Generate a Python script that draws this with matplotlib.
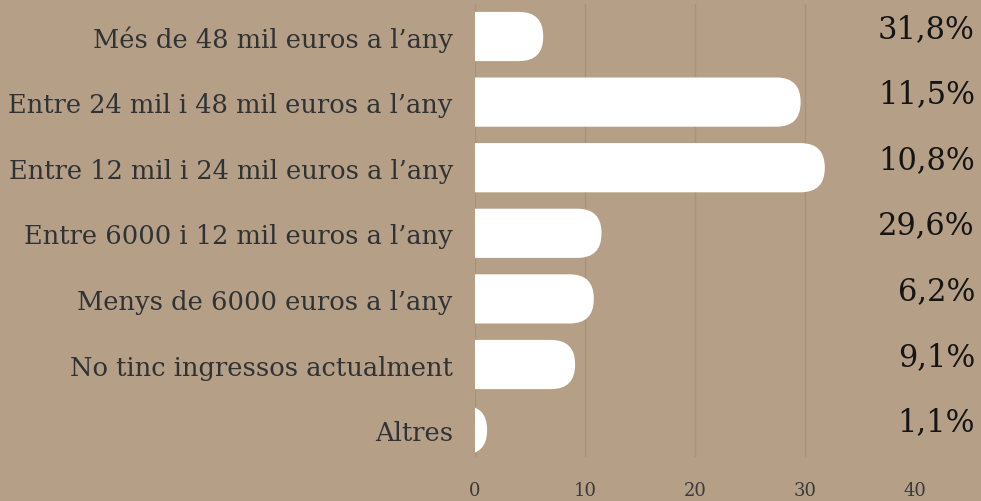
import matplotlib.pyplot as plt
from matplotlib.patches import FancyBboxPatch

# dades
categories = ["Més de 48 mil euros a l’any",
              "Entre 24 mil i 48 mil euros a l’any",
              "Entre 12 mil i 24 mil euros a l’any",
              "Entre 6000 i 12 mil euros a l’any",
              "Menys de 6000 euros a l’any",
              "No tinc ingressos actualment",
              "Altres"]
values = [6.2, 29.6, 31.8, 11.5, 10.8, 9.1, 1.1]
pct_labels = ["31,8%", "11,5%", "10,8%", "29,6%", "6,2%", "9,1%", "1,1%"]
xticks = [0, 10, 20, 30, 40]

bg = '#b5a087'
grid_col = '#a7927a'
txt_col = '#2f3335'

W, H = 981, 502
fig = plt.figure(figsize=(W / 100, H / 100), dpi=100, facecolor=bg)
ax = fig.add_axes([475 / W, 1 - 458 / H, (915 - 475) / W, (458 - 4.7) / H])
ax.set_facecolor(bg)

y = list(range(len(categories)))
bars = ax.barh(y, values, height=0.75, color='white')

# barres arrodonides a la dreta
x_per_px = 40 / 440
y_per_px = 6.91 / 453.3
for b in bars:
    b.set_visible(False)
    x0, y0 = b.get_x(), b.get_y()
    w, h = b.get_width(), b.get_height()
    p = FancyBboxPatch((x0 - 3, y0), w + 3, h,
                       boxstyle="round,pad=0,rounding_size=2.2",
                       mutation_aspect=y_per_px / x_per_px,
                       fc='white', ec='none', zorder=3)
    ax.add_patch(p)

ax.set_xlim(0, 40)
ax.set_ylim(6.41, -0.5)
ax.set_xticks(xticks)
ax.set_xticklabels([str(t) for t in xticks])
ax.set_yticks(y)
ax.set_yticklabels(categories)
ax.tick_params(axis='both', length=0)
ax.tick_params(axis='y', pad=16, labelsize=18.5, labelcolor=txt_col)
ax.tick_params(axis='x', pad=17, labelsize=13, labelcolor='#3a3a3a')
for lab in ax.get_yticklabels() + ax.get_xticklabels():
    lab.set_fontfamily('DejaVu Serif')

for t in xticks[:-1]:
    ax.axvline(t, color=grid_col, lw=1, zorder=1)
for s in ax.spines.values():
    s.set_visible(False)

# etiquetes de percentatge
for i, lab in enumerate(pct_labels):
    ax.annotate(lab, xy=(975 / W, i), xycoords=('figure fraction', 'data'),
                xytext=(0, 6), textcoords='offset points',
                ha='right', va='center', fontsize=22,
                family='DejaVu Serif', color='#151515')

fig.savefig('out.png', dpi=100, facecolor=bg)
